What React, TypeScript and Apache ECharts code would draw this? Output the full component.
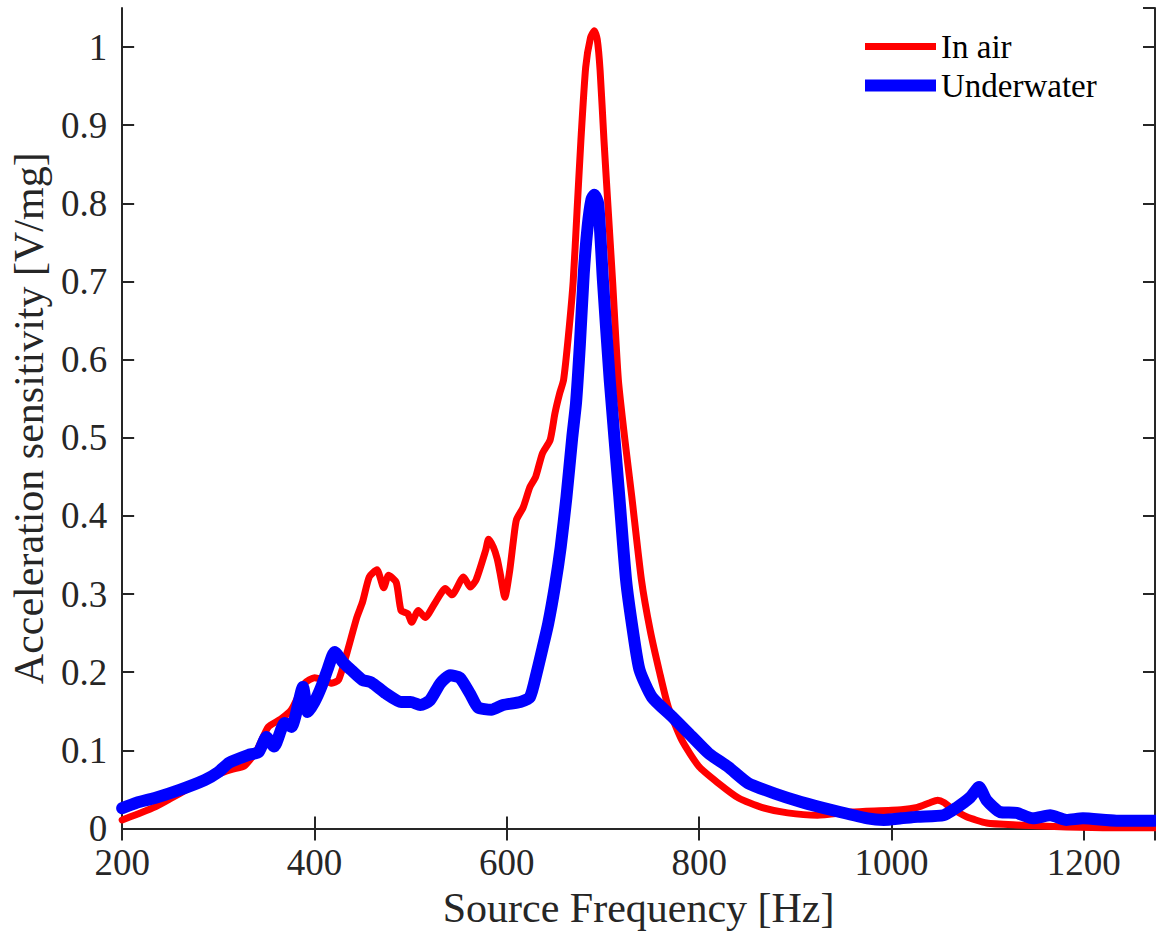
import React, { useEffect, useRef } from "react";
import * as echarts from "echarts";

// In air (red)
const airFreq = [
  200, 215, 235, 250, 270, 286, 300, 315, 327, 340, 352, 365, 376, 390, 400, 410, 418, 425,
  434, 444, 450, 457, 465, 472, 477, 485, 490, 497, 501, 508, 515, 526, 536, 543, 555, 562,
  568, 578, 581, 586, 590, 593, 598, 603, 607, 610, 617, 624, 630, 637, 645, 650, 655, 659,
  664, 669, 673, 677, 682, 687, 691, 694, 697, 701, 705, 710, 716, 723, 730, 740, 749, 759,
  768, 782, 800, 820, 841, 865, 892, 923, 958, 1010, 1027, 1040, 1048, 1055, 1061, 1078,
  1099, 1130, 1182, 1230, 1274,
];
const airVal = [
  0.011, 0.018, 0.028, 0.038, 0.052, 0.064, 0.07, 0.076, 0.08, 0.1, 0.13, 0.14, 0.152, 0.186,
  0.193, 0.19, 0.186, 0.19, 0.226, 0.27, 0.29, 0.322, 0.331, 0.308, 0.324, 0.315, 0.279, 0.275,
  0.264, 0.279, 0.27, 0.29, 0.307, 0.299, 0.322, 0.309, 0.318, 0.356, 0.37, 0.36, 0.345, 0.327,
  0.296, 0.33, 0.37, 0.395, 0.411, 0.437, 0.45, 0.48, 0.497, 0.531, 0.557, 0.574, 0.63, 0.7,
  0.79, 0.88, 0.974, 1.012, 1.021, 1.01, 0.97, 0.881, 0.8, 0.7, 0.574, 0.495, 0.424, 0.318,
  0.254, 0.199, 0.155, 0.113, 0.079, 0.058, 0.039, 0.027, 0.02, 0.017, 0.021, 0.024, 0.027,
  0.033, 0.036, 0.033, 0.027, 0.015, 0.007, 0.0045, 0.002, 0.001, 0.001,
];

// Underwater (blue)
const waterFreq = [
  200, 215, 234, 259, 286, 300, 311, 331, 342, 350, 358, 369, 376, 388, 393, 400, 407, 414,
  421, 430, 438, 450, 459, 474, 490, 500, 510, 520, 531, 541, 551, 562, 570, 584, 596, 614,
  624, 631, 637, 643, 650, 656, 662, 668, 672, 676, 680, 684, 688, 691, 695, 700, 707, 717,
  724, 731, 738, 751, 772, 789, 810, 830, 851, 878, 906, 940, 975, 992, 1010, 1027, 1054,
  1068, 1082, 1091, 1099, 1113, 1130, 1147, 1165, 1182, 1199, 1234, 1274,
];
const waterVal = [
  0.026, 0.033, 0.039, 0.049, 0.062, 0.072, 0.084, 0.094, 0.098, 0.117, 0.105, 0.135, 0.13,
  0.181, 0.149, 0.162, 0.181, 0.205, 0.226, 0.212, 0.203, 0.19, 0.187, 0.173, 0.162, 0.162,
  0.158, 0.164, 0.186, 0.196, 0.193, 0.172, 0.155, 0.152, 0.158, 0.162, 0.168, 0.199, 0.23,
  0.262, 0.31, 0.36, 0.424, 0.5, 0.545, 0.62, 0.71, 0.77, 0.805, 0.811, 0.8, 0.7, 0.574, 0.424,
  0.318, 0.254, 0.203, 0.168, 0.143, 0.122, 0.096, 0.079, 0.058, 0.045, 0.034, 0.023, 0.013,
  0.011, 0.013, 0.015, 0.017, 0.027, 0.04, 0.053, 0.036, 0.021, 0.02, 0.013, 0.017, 0.011,
  0.013, 0.01, 0.01,
];

const seriesNames = ["In air", "Underwater"];
const seriesColors = ["#ff0000", "#0000ff"];
const seriesWidths = [7, 12];
const xTitle = "Source Frequency [Hz]";
const yTitle = "Acceleration sensitivity [V/mg]";

const FONT = "'Liberation Serif', 'Times New Roman', serif";
const AXIS_COLOR = "#262626";

export default function App() {
  const ref = useRef<HTMLDivElement>(null);

  useEffect(() => {
    if (!ref.current) return;
    const chart = echarts.init(ref.current, undefined, { renderer: "svg" });

    const airData = airFreq.map((f, i) => [f, airVal[i]]);
    const waterData = waterFreq.map((f, i) => [f, waterVal[i]]);

    const axisLine = { show: true, lineStyle: { color: AXIS_COLOR, width: 2 } };
    const axisTick = { show: true, inside: true, length: 12, lineStyle: { color: AXIS_COLOR, width: 2 } };

    chart.setOption({
      animation: false,
      backgroundColor: "#ffffff",
      grid: { left: 117, right: 1, top: 8, bottom: 110.5, containLabel: false },
      legend: {
        orient: "vertical",
        left: 859,
        top: 30,
        padding: 0,
        itemWidth: 71,
        itemHeight: 2,
        itemGap: 6,
        selectedMode: false,
        data: seriesNames.map((n, i) => ({
          name: n,
          lineStyle: { width: seriesWidths[i], color: seriesColors[i], cap: "butt" },
        })),
        textStyle: { fontFamily: FONT, fontSize: 33, lineHeight: 33, color: "#000" },
      },
      xAxis: [
        {
          type: "value",
          min: 200,
          max: 1274,
          interval: 200,
          position: "bottom",
          axisLine,
          axisTick,
          splitLine: { show: false },
          axisLabel: {
            color: AXIS_COLOR,
            fontFamily: FONT,
            fontSize: 37,
            lineHeight: 28,
            margin: 20,
            showMaxLabel: false,
            formatter: (v: number) => (Math.abs(v % 200) < 1e-6 ? String(v) : ""),
          },
          name: xTitle,
          nameLocation: "middle",
          nameGap: 58,
          nameTextStyle: { fontFamily: FONT, fontSize: 42, color: AXIS_COLOR },
        },
        {
          type: "value",
          min: 200,
          max: 1274,
          interval: 200,
          position: "top",
          axisLine,
          axisTick,
          splitLine: { show: false },
          axisLabel: { show: false },
        },
      ],
      yAxis: [
        {
          type: "value",
          min: 0,
          max: 1.05,
          interval: 0.1,
          position: "left",
          axisLine,
          axisTick,
          splitLine: { show: false },
          axisLabel: {
            color: AXIS_COLOR,
            fontFamily: FONT,
            fontSize: 37,
            lineHeight: 28,
            margin: 15,
            showMaxLabel: false,
            formatter: (v: number) => {
              const t = v * 10;
              if (Math.abs(t - Math.round(t)) > 1e-6) return "";
              return String(parseFloat(v.toFixed(1)));
            },
          },
          name: yTitle,
          nameLocation: "middle",
          nameRotate: 90,
          nameGap: 70,
          nameTextStyle: { fontFamily: FONT, fontSize: 42, color: AXIS_COLOR },
        },
        {
          type: "value",
          min: 0,
          max: 1.05,
          interval: 0.1,
          position: "right",
          axisLine,
          axisTick,
          splitLine: { show: false },
          axisLabel: { show: false },
        },
      ],
      series: [
        {
          name: seriesNames[0],
          type: "line",
          data: airData,
          symbol: "none",
          showSymbol: false,
          smooth: 0.2,
          color: seriesColors[0],
          lineStyle: { color: seriesColors[0], width: seriesWidths[0], cap: "round", join: "round" },
          z: 2,
        },
        {
          name: seriesNames[1],
          type: "line",
          data: waterData,
          symbol: "none",
          showSymbol: false,
          smooth: 0.2,
          color: seriesColors[1],
          lineStyle: { color: seriesColors[1], width: seriesWidths[1], cap: "round", join: "round" },
          z: 3,
        },
      ],
    });

    return () => {
      chart.dispose();
    };
  }, []);

  return (
    <div
      ref={ref}
      style={{ position: "fixed", left: 0, top: 0, width: 1156, height: 939, background: "#fff" }}
    />
  );
}
